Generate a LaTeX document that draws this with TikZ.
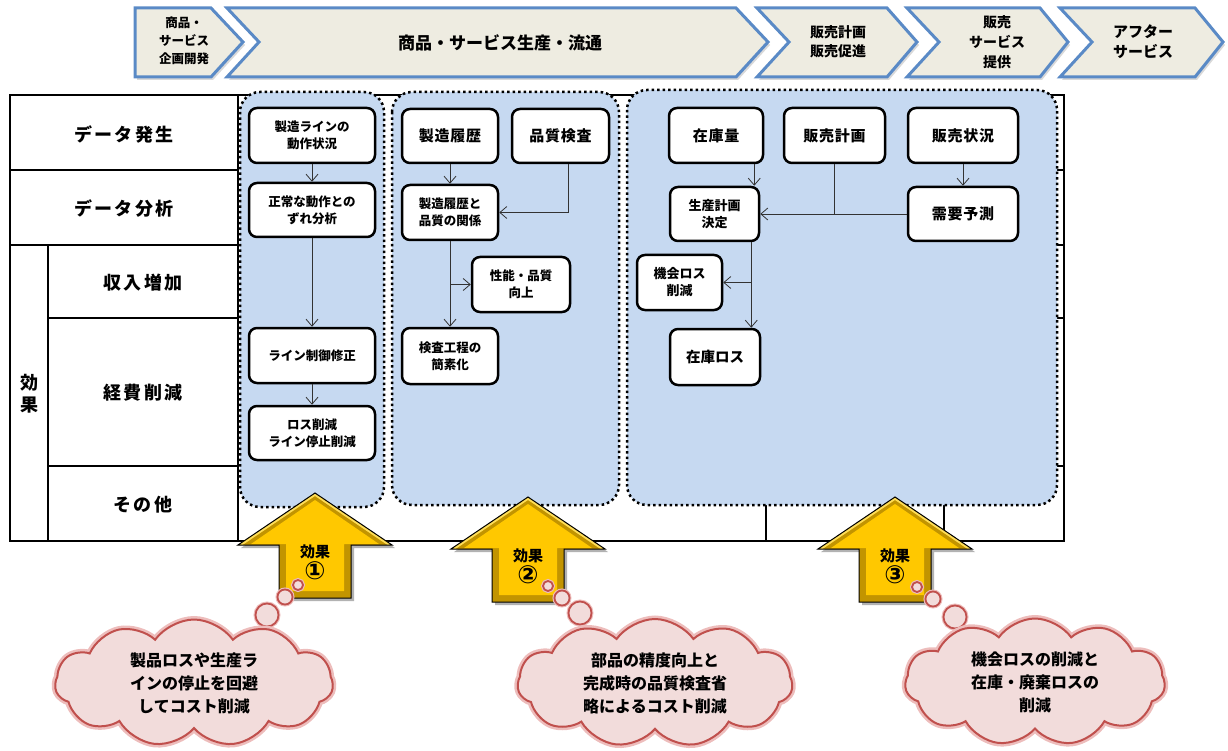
\documentclass[tikz,border=0pt]{standalone}
\usepackage{fontspec}
\setmainfont{Noto Sans CJK JP}
\newfontfamily\numfont{DejaVu Sans}
\usetikzlibrary{arrows.meta,shapes.symbols,shadows}

\definecolor{panelblue}{HTML}{C6D9F1}
\definecolor{chevfill}{HTML}{EEECE1}
\definecolor{chevline}{HTML}{5A8AC6}
\definecolor{gold}{HTML}{FFC800}
\definecolor{golddark}{HTML}{C29400}
\definecolor{goldlight}{HTML}{FFDD55}
\definecolor{cloudfill}{HTML}{F2DCDB}
\definecolor{cloudline}{HTML}{C0504D}
\definecolor{cloudglow}{HTML}{EDBDBC}

\tikzset{
	chev/.style={fill=chevfill, draw=chevline, line width=3pt, line join=miter,
		drop shadow={opacity=0.3, shadow xshift=2pt, shadow yshift=-3pt}},
	chevtext/.style={font=\bfseries\fontsize{14}{19}\selectfont, align=center},
	tbl/.style={line width=2.5pt},
	rowlabel/.style={font=\bfseries\fontsize{18}{22}\selectfont\addfontfeatures{LetterSpace=12}, align=center},
	panel/.style={fill=panelblue, draw=black, line width=2.5pt, dash pattern=on 2.5pt off 3pt, rounded corners=20pt},
	proc/.style={draw, fill=white, line width=2.5pt, rounded corners=8pt, align=center, inner sep=0pt,
		font=\bfseries\fontsize{12.5}{17}\selectfont},
	procbig/.style={proc, font=\bfseries\fontsize{15}{18}\selectfont\addfontfeatures{LetterSpace=5}},
	flow/.style={draw=black!80, line width=0.8pt, -{Straight Barb[length=7pt,width=12pt]}},
	efftext/.style={font=\bfseries\fontsize{15}{22}\selectfont, align=center},
	thought/.style={cloud, cloud puffs=11, cloud puff arc=110, aspect=2.2, fill=cloudfill, draw=cloudline,
		line width=2pt, preaction={draw=cloudglow, line width=7pt}, align=center, inner sep=0pt,
		font=\bfseries\fontsize{16}{23}\selectfont},
	bubble/.style={circle, fill=cloudfill, draw=cloudline, line width=1.8pt,
		preaction={draw=cloudglow, line width=4pt}, inner sep=0pt}
}

\begin{document}
\begin{tikzpicture}[x=1pt, y=-1pt]
	\useasboundingbox (0,0) rectangle (1228,751);

	% stages
	\path[chev] (135,8) -- (211,8) -- (243,42) -- (211,77) -- (135,77) -- cycle;
	\path[chev] (227,8) -- (736,8) -- (768,42) -- (736,77) -- (227,77) -- (259,42) -- cycle;
	\path[chev] (757,8) -- (887,8) -- (917,42) -- (887,77) -- (757,77) -- (789,42) -- cycle;
	\path[chev] (907,8) -- (1040,8) -- (1068,42) -- (1040,77) -- (907,77) -- (939,42) -- cycle;
	\path[chev] (1060,8) -- (1195,8) -- (1223,42) -- (1195,77) -- (1060,77) -- (1092,42) -- cycle;
	\node[chevtext, font=\bfseries\fontsize{12.5}{18}\selectfont] (stg1) at (184,41) {商品・\\サービス\\企画開発};
	\node[chevtext, font=\bfseries\fontsize{17}{20}\selectfont] (stg2) at (500,43) {商品・サービス生産・流通};
	\node[chevtext] (stg3) at (838,42) {販売計画\\販売促進};
	\node[chevtext, font=\bfseries\fontsize{14}{20}\selectfont] (stg4) at (997,42) {販売\\サービス\\提供};
	\node[chevtext, font=\bfseries\fontsize{15}{20}\selectfont] (stg5) at (1143,42) {アフター\\サービス};

	% table
	\draw[tbl] (10,95) rectangle (1064,541);
	\draw[tbl] (238,95) -- (238,541);
	\draw[tbl] (48,245) -- (48,541);
	\draw[tbl] (10,170) -- (238,170) (1040,170) -- (1064,170);
	\draw[tbl] (10,245) -- (238,245) (1040,245) -- (1064,245);
	\draw[tbl] (48,318) -- (238,318) (1040,318) -- (1064,318);
	\draw[tbl] (48,466) -- (238,466) (1040,466) -- (1064,466);
	\draw[tbl] (766,466) -- (766,541);
	\draw[tbl] (944,466) -- (944,541);
	\node[rowlabel] (gen) at (124,134) {データ発生};
	\node[rowlabel] (ana) at (124,209) {データ分析};
	\node[rowlabel] (rev) at (143,283) {収入増加};
	\node[rowlabel] (cost) at (143,393) {経費削減};
	\node[rowlabel] (other) at (143,505) {その他};
	\node[rowlabel] (eff) at (29,394) {効\\果};

	% panels
	\draw[panel] (240,92) rectangle (384,507);
	\draw[panel] (392,92) rectangle (619,505);
	\draw[panel] (627,90) rectangle (1057,505);

	% panel 1
	\node[proc, minimum width=126pt, minimum height=55pt] (line) at (312,135.5) {製造ラインの\\動作状況};
	\node[proc, minimum width=126pt, minimum height=54pt] (dev) at (312,210) {正常な動作との\\ずれ分析};
	\node[proc, minimum width=126pt, minimum height=55pt] (ctrl) at (312,355.5) {ライン制御修正};
	\node[proc, minimum width=126pt, minimum height=54pt] (stop) at (312,433) {ロス削減\\ライン停止削減};
	\draw[flow] (line) -- (dev);
	\draw[flow] (dev) -- (ctrl);
	\draw[flow] (ctrl) -- (stop);

	% panel 2
	\node[procbig, minimum width=96pt, minimum height=54pt] (hist) at (450,136) {製造履歴};
	\node[procbig, minimum width=97pt, minimum height=54pt] (qc) at (560.5,136) {品質検査};
	\node[proc, minimum width=96pt, minimum height=55pt] (rel) at (450,212.5) {製造履歴と\\品質の関係};
	\node[proc, minimum width=98pt, minimum height=55pt] (perf) at (521,284.5) {性能・品質\\向上};
	\node[proc, minimum width=96pt, minimum height=56pt] (insp) at (450,356) {検査工程の\\簡素化};
	\draw[flow] (hist) -- (rel);
	\draw[flow] ([xshift=8pt]qc.south) |- (rel.east);
	\draw[flow] (rel) -- (insp);
	\draw[flow] (rel.south |- perf.west) -- (perf.west);

	% panel 3
	\node[procbig, minimum width=94pt, minimum height=55pt] (stock) at (716,135.5) {在庫量};
	\node[procbig, minimum width=101pt, minimum height=55pt] (sales) at (834.5,135.5) {販売計画};
	\node[procbig, minimum width=110pt, minimum height=55pt] (status) at (963,135.5) {販売状況};
	\node[proc, font=\bfseries\fontsize{13}{17}\selectfont, minimum width=89pt, minimum height=54pt] (plan) at (714.5,214) {生産計画\\決定};
	\node[procbig, minimum width=110pt, minimum height=54pt] (fcst) at (963,214) {需要予測};
	\node[proc, font=\bfseries\fontsize{13}{17}\selectfont, minimum width=85pt, minimum height=55pt] (oloss) at (679.5,282.5) {機会ロス\\削減};
	\node[procbig, font=\bfseries\fontsize{14.5}{18}\selectfont, minimum width=90pt, minimum height=56pt] (sloss) at (715,357) {在庫ロス};
	\draw[flow] ([xshift=-6pt]plan.north east |- stock.south) -- ([xshift=-6pt]plan.north east);
	\draw[flow] (status) -- (fcst);
	\draw[flow] (fcst.west) -- (plan.east);
	\draw[draw=black!80, line width=0.8pt] (sales.south) -- (sales.south |- plan.east);
	\draw[flow] ([xshift=-9pt]plan.south east) -- ([xshift=-9pt]plan.south east |- sloss.north);
	\draw[flow] ([xshift=-9pt]plan.south east |- oloss.east) -- (oloss.east);

	% effects
	\foreach \cx/\ty/\num [count=\i] in {315/493/①, 528/497/②, 895/497/③} {
		\fill[black, opacity=0.3] (\cx+3,\ty+3) -- ++(77,52) -- ++(-41,0) -- ++(0,53) -- ++(-72,0) -- ++(0,-53) -- ++(-41,0) -- cycle;
		\begin{scope}
			\clip (\cx,\ty) -- ++(77,52) -- ++(-41,0) -- ++(0,53) -- ++(-72,0) -- ++(0,-53) -- ++(-41,0) -- cycle;
			\fill[golddark] (\cx,\ty) -- ++(77,52) -- ++(-41,0) -- ++(0,53) -- ++(-72,0) -- ++(0,-53) -- ++(-41,0) -- cycle;
			\fill[gold] (\cx,\ty+7) -- ++(64,44) -- ++(-35,0) -- ++(0,47) -- ++(-58,0) -- ++(0,-47) -- ++(-35,0) -- cycle;
			\draw[goldlight, line width=5pt] (\cx-77,\ty+52) -- (\cx,\ty) -- (\cx+77,\ty+52);
		\end{scope}
		\draw[black, line width=1pt, line join=miter] (\cx,\ty) -- ++(77,52) -- ++(-41,0) -- ++(0,53) -- ++(-72,0) -- ++(0,-53) -- ++(-41,0) -- cycle;
		\node[efftext] (eff\i) at (\cx,\ty+69) {効果\\{\numfont\fontsize{25}{22}\selectfont\num}};
	}

	% thoughts
	\foreach \bx/\by/\r in {298/585/10, 285/597/15, 267/615/23, 548/586/10, 562/598/15, 580/613/23, 917/587/10, 933/599/15, 955/617/23} {
		\node[bubble, minimum size=\r pt] at (\bx,\by) {};
	}
	\node[thought, minimum width=278pt, minimum height=127pt] (cloudA) at (194,683) {製品ロスや生産ラ\\インの停止を回避\\してコスト削減};
	\node[thought, minimum width=275pt, minimum height=128pt] (cloudB) at (655,683) {部品の精度向上と\\完成時の品質検査省\\略によるコスト削減};
	\node[thought, minimum width=260pt, minimum height=127pt] (cloudC) at (1035,682) {機会ロスの削減と\\在庫・廃棄ロスの\\削減};
\end{tikzpicture}
\end{document}
